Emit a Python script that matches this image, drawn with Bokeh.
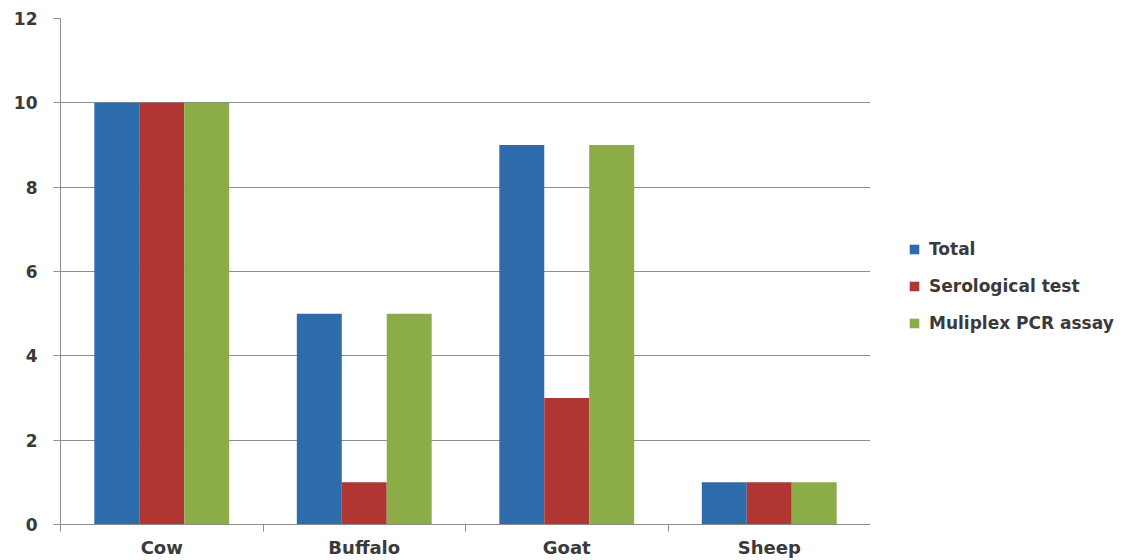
from bokeh.plotting import figure
from bokeh.layouts import row
from bokeh.models import (ColumnDataSource, Range1d, LinearAxis,
                          FixedTicker, Legend, LegendItem)
from bokeh.embed import file_html
from bokeh.resources import INLINE

categories = ["Cow", "Buffalo", "Goat", "Sheep"]
total = [10, 5, 9, 1]
serological = [10, 1, 3, 1]
multiplex = [10, 5, 9, 1]
series_names = ["Total", "Serological test", "Muliplex PCR assay"]
colors = ["#2E6BAA", "#AF3633", "#8BAC47"]
y_ticks = [0, 2, 4, 6, 8, 10, 12]

FONT = "DejaVu Sans"
TXT = "#3a3a3a"
GRID = "#8e8e8e"

n = len(categories)
centers = [i + 0.5 for i in range(n)]
bounds = list(range(n + 1))
w = 0.222
src = ColumnDataSource(dict(c=centers,
                            x1=[c - w for c in centers], x2=centers, x3=[c + w for c in centers],
                            total=total, sero=serological, multi=multiplex))

p = figure(width=870, height=560, x_range=Range1d(0, n),
           y_range=Range1d(0, 12), output_backend="svg", toolbar_location=None,
           x_axis_location=None,
           min_border_left=60, min_border_right=0, min_border_top=18, min_border_bottom=36)
p.outline_line_color = None
p.background_fill_color = "white"
p.border_fill_color = "white"

p.vbar(x="x1", top="total", width=w, source=src, fill_color=colors[0], line_color=None)
p.vbar(x="x2", top="sero", width=w, source=src, fill_color=colors[1], line_color=None)
p.vbar(x="x3", top="multi", width=w, source=src, fill_color=colors[2], line_color=None)

# y axis / grid
p.yaxis.ticker = FixedTicker(ticks=y_ticks)
p.yaxis.minor_tick_line_color = None
p.yaxis.major_tick_out = 7
p.yaxis.major_tick_in = 0
p.yaxis.major_tick_line_color = GRID
p.yaxis.axis_line_color = GRID
p.yaxis.major_label_standoff = 16
p.yaxis.major_label_text_font = FONT
p.yaxis.major_label_text_font_size = "17px"
p.yaxis.major_label_text_font_style = "bold"
p.yaxis.major_label_text_color = TXT
p.ygrid.ticker = FixedTicker(ticks=y_ticks)
p.ygrid.grid_line_color = GRID
p.xgrid.grid_line_color = None

# category axis: labels at centres, tick marks at category boundaries
cat_axis = LinearAxis(ticker=FixedTicker(ticks=centers, minor_ticks=bounds),
                      major_label_overrides={c: lab for c, lab in zip(centers, categories)},
                      axis_line_color=GRID, major_tick_line_color=None,
                      major_tick_out=7, major_tick_in=0,
                      minor_tick_line_color=GRID, minor_tick_out=7, minor_tick_in=0,
                      major_label_standoff=5, major_label_text_font=FONT,
                      major_label_text_font_size="18px", major_label_text_font_style="bold",
                      major_label_text_color=TXT)
p.add_layout(cat_axis, "below")

# legend panel on the right (legend-only renderers have zero height)
lg = figure(width=261, height=560, x_range=Range1d(0, 1), y_range=Range1d(0, 1),
            output_backend="svg", toolbar_location=None,
            x_axis_location=None, y_axis_location=None, min_border=0)
lg.outline_line_color = None
lg.xgrid.grid_line_color = None
lg.ygrid.grid_line_color = None
lg.border_fill_color = "white"
lg.background_fill_color = "white"
items = []
for name, col in zip(series_names, colors):
    r = lg.vbar(x=[0.5], top=[0], bottom=[0], width=0.1, fill_color=col, line_color=None)
    items.append(LegendItem(label=name, renderers=[r]))
legend = Legend(items=items,
                location=(38, 191), padding=0, margin=0, spacing=17,
                glyph_width=12, glyph_height=12, label_height=20, label_standoff=9,
                label_text_font=FONT, label_text_font_size="17px",
                label_text_font_style="bold", label_text_color=TXT,
                background_fill_alpha=0, border_line_color=None)
lg.add_layout(legend, "center")

layout = row(p, lg, spacing=0)
open("out.html", "w").write(file_html(layout, INLINE))
